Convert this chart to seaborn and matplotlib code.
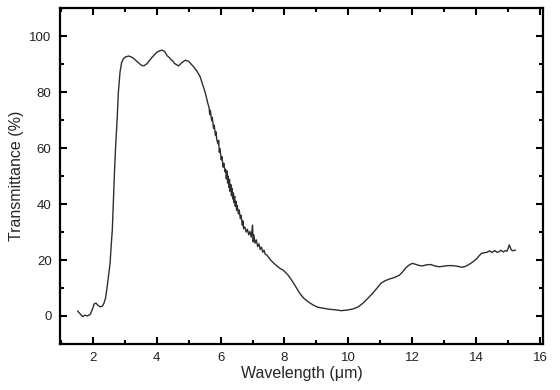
import matplotlib
matplotlib.use("Agg")
import matplotlib.pyplot as plt
from matplotlib.ticker import MultipleLocator
import seaborn as sns
import pandas as pd

wavelength = [
    1.52, 1.60, 1.68, 1.76, 1.83, 1.92, 2.00, 2.04, 2.10, 2.16, 2.23, 2.30, 2.35,
    2.40, 2.45, 2.50, 2.54, 2.58, 2.61, 2.64, 2.68, 2.72, 2.76, 2.80, 2.85, 2.90,
    2.95, 3.02, 3.13, 3.25, 3.40, 3.52, 3.60, 3.70, 3.85, 4.00, 4.10, 4.17, 4.25,
    4.33, 4.40, 4.45, 4.50, 4.55, 4.62, 4.69, 4.78, 4.90, 5.00, 5.08, 5.16, 5.26,
    5.36, 5.46, 5.52, 5.57,
    5.60, 5.64, 5.66, 5.68, 5.72, 5.74, 5.78, 5.80, 5.84, 5.86, 5.88, 5.92, 5.94,
    5.96, 5.98, 6.02, 6.04, 6.08, 6.10, 6.14, 6.16, 6.18, 6.20, 6.22, 6.24, 6.26,
    6.28, 6.30, 6.32, 6.34, 6.36, 6.38, 6.40, 6.42, 6.44, 6.46, 6.48, 6.50, 6.52,
    6.56, 6.58, 6.62, 6.64, 6.68, 6.70, 6.72, 6.76, 6.80, 6.84, 6.88, 6.92, 6.96,
    7.00, 7.02, 7.04, 7.08, 7.12, 7.16, 7.20, 7.24, 7.28, 7.32, 7.36, 7.40, 7.45,
    7.55, 7.70, 7.86, 7.96, 8.10, 8.22, 8.35, 8.48, 8.60, 8.74, 8.90, 9.05, 9.20,
    9.41, 9.60, 9.78, 9.95, 10.14, 10.30, 10.45, 10.60, 10.76, 10.90, 11.02, 11.15,
    11.28, 11.40, 11.49, 11.60, 11.70, 11.80, 11.90, 12.00, 12.10, 12.20, 12.32,
    12.45, 12.58, 12.70, 12.84, 13.00, 13.10, 13.26, 13.40, 13.57, 13.70, 13.83,
    13.95, 14.03, 14.10, 14.17, 14.25, 14.35, 14.42, 14.50, 14.58, 14.65, 14.71,
    14.78, 14.85, 14.92, 14.97, 15.04, 15.10, 15.16, 15.23,
]
transmittance = [
    1.8, 0.8, -0.2, 0.3, 0.0, 0.6, 2.8, 4.3, 4.6, 3.8, 3.3, 3.5, 4.6,
    6.5, 10.5, 15.0, 18.8, 26.0, 30.7, 40.0, 52.0, 62.0, 70.0, 80.0, 87.0, 90.5,
    91.8, 92.6, 92.9, 92.3, 90.8, 89.6, 89.4, 90.2, 92.4, 94.2, 94.8, 95.0, 94.5,
    93.0, 92.3, 91.6, 91.2, 90.3, 89.8, 89.4, 90.5, 91.4, 91.0, 90.0, 89.0, 87.5,
    85.5, 82.0, 79.8, 77.5,
    76.0, 74.5, 72.0, 73.5, 69.8, 71.0, 67.0, 68.2, 64.5, 65.8, 63.0, 61.5, 62.8,
    58.5, 59.8, 55.8, 57.0, 53.2, 54.6, 51.5, 52.4, 49.0, 51.8, 47.5, 50.0, 46.0,
    48.8, 44.5, 47.0, 43.0, 45.6, 41.8, 44.0, 40.5, 42.8, 39.2, 41.0, 37.8, 39.5,
    36.5, 37.9, 34.8, 36.0, 32.5, 34.0, 31.2, 31.8, 30.0, 31.0, 29.0, 30.2, 28.2,
    32.5, 26.5, 29.0, 26.0, 27.2, 24.8, 25.8, 23.8, 24.6, 22.8, 23.5, 22.0, 21.8,
    20.2, 18.5, 17.0, 16.4, 14.8, 12.9, 10.5, 8.1, 6.4, 5.1, 3.9, 3.1, 2.8,
    2.4, 2.2, 1.9, 2.1, 2.5, 3.2, 4.5, 6.2, 8.1, 10.0, 11.7, 12.6,
    13.2, 13.6, 14.0, 14.6, 15.8, 17.2, 18.2, 18.8, 18.5, 18.1, 17.9,
    18.3, 18.4, 17.9, 17.6, 17.8, 18.0, 18.0, 17.8, 17.4, 17.9, 18.8,
    19.8, 20.6, 21.6, 22.4, 22.6, 22.8, 23.3, 22.7, 23.4, 22.8, 22.9,
    23.5, 22.9, 23.4, 23.2, 25.4, 23.6, 23.3, 23.6,
]

df = pd.DataFrame({"wavelength": wavelength, "transmittance": transmittance})

sns.set_style("white")
plt.rcParams["font.family"] = ["Liberation Sans", "DejaVu Sans"]

fig = plt.figure(figsize=(5.6, 3.9), dpi=100)
ax = fig.add_axes([0.107, 0.118, 0.863, 0.861])

sns.lineplot(data=df, x="wavelength", y="transmittance", ax=ax, sort=False,
             estimator=None, color="#2e2e2e", linewidth=1.0)

ax.set_xlim(0.97, 16.1)
ax.set_ylim(-10, 110)
ax.xaxis.set_major_locator(MultipleLocator(2))
ax.xaxis.set_minor_locator(MultipleLocator(1))
ax.yaxis.set_major_locator(MultipleLocator(20))
ax.yaxis.set_minor_locator(MultipleLocator(10))
ax.set_xticks(range(2, 17, 2))
ax.set_yticks(range(0, 101, 20))

ax.tick_params(which="both", direction="in", top=True, right=True,
               bottom=True, left=True, width=1.5, colors="black",
               labelsize=9.5, labelcolor="#222222")
ax.tick_params(which="major", length=5, pad=6)
ax.tick_params(which="minor", length=3)

for s in ax.spines.values():
    s.set_linewidth(1.6)
    s.set_color("black")

ax.set_xlabel("Wavelength (\u03bcm)", fontsize=11.5, labelpad=1)
ax.set_ylabel("Transmittance (%)", fontsize=11.5, labelpad=4)

fig.savefig("out.png", dpi=100)
